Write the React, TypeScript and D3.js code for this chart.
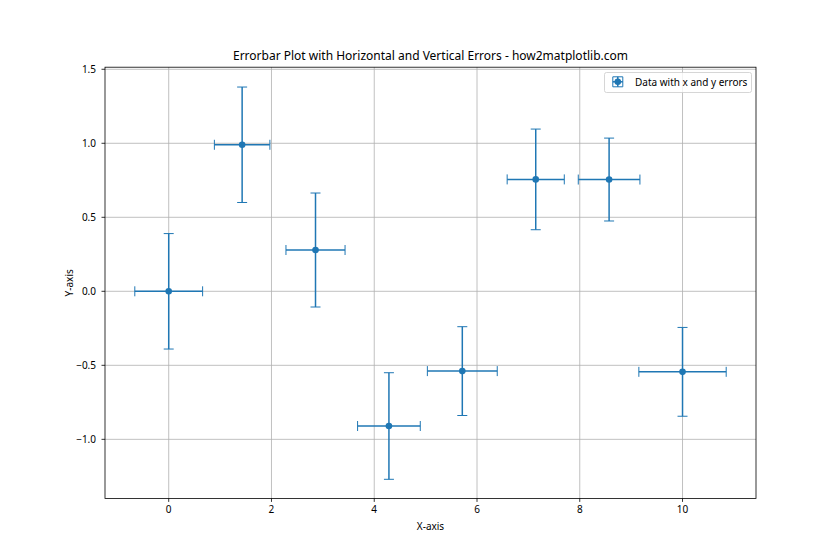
import React from "react";
import * as d3 from "d3";

const xValues = [0, 1.429, 2.857, 4.286, 5.714, 7.143, 8.571, 10];
const yValues = [0, 0.99, 0.279, -0.91, -0.539, 0.756, 0.755, -0.544];
const xErrors = [0.66, 0.54, 0.575, 0.61, 0.68, 0.556, 0.6, 0.85];
const yErrors = [0.39, 0.39, 0.385, 0.36, 0.3, 0.34, 0.28, 0.3];
const xTicks = [0, 2, 4, 6, 8, 10];
const yTicks = [-1.0, -0.5, 0.0, 0.5, 1.0, 1.5];

const W = 840;
const H = 560;
const left = 105;
const right = 756;
const top = 67.2;
const bottom = 498.4;
const color = "#1f77b4";
const font = "'Noto Sans', 'Open Sans', sans-serif";

export default function App() {
  const x = d3.scaleLinear().domain([-1.24, 11.43]).range([left, right]);
  const y = d3.scaleLinear().domain([-1.399, 1.514]).range([bottom, top]);
  const cap = 5;
  const fmtY = (v: number) => (v < 0 ? "\u2212" : "") + Math.abs(v).toFixed(1);
  const lx = 617.8;
  const ly = 81.8;

  return (
    <svg width={W} height={H} style={{ position: "absolute", left: 0, top: 0, background: "#fff" }}>
      <rect x={0} y={0} width={W} height={H} fill="#fff" />
      {/* grid */}
      <g stroke="#b0b0b0" strokeWidth={0.8}>
        {xTicks.map((t) => (
          <line key={"gx" + t} x1={x(t)} x2={x(t)} y1={top} y2={bottom} />
        ))}
        {yTicks.map((t) => (
          <line key={"gy" + t} x1={left} x2={right} y1={y(t)} y2={y(t)} />
        ))}
      </g>
      {/* error bars */}
      <g stroke={color} strokeWidth={1.5} fill="none">
        {xValues.map((xv, i) => {
          const cx = x(xv);
          const cy = y(yValues[i]);
          const x0 = x(xv - xErrors[i]);
          const x1 = x(xv + xErrors[i]);
          const y0 = y(yValues[i] - yErrors[i]);
          const y1 = y(yValues[i] + yErrors[i]);
          return (
            <g key={"e" + i}>
              <line x1={x0} x2={x1} y1={cy} y2={cy} />
              <line x1={cx} x2={cx} y1={y0} y2={y1} />
              <line x1={x0} x2={x0} y1={cy - cap} y2={cy + cap} strokeWidth={1} />
              <line x1={x1} x2={x1} y1={cy - cap} y2={cy + cap} strokeWidth={1} />
              <line x1={cx - cap} x2={cx + cap} y1={y0} y2={y0} strokeWidth={1} />
              <line x1={cx - cap} x2={cx + cap} y1={y1} y2={y1} strokeWidth={1} />
            </g>
          );
        })}
      </g>
      <g fill={color}>
        {xValues.map((xv, i) => (
          <circle key={"p" + i} cx={x(xv)} cy={y(yValues[i])} r={3.3} />
        ))}
      </g>
      {/* axes frame */}
      <rect x={left} y={top} width={right - left} height={bottom - top} fill="none" stroke="#000" strokeWidth={0.8} />
      {/* ticks */}
      <g stroke="#000" strokeWidth={0.8}>
        {xTicks.map((t) => (
          <line key={"tx" + t} x1={x(t)} x2={x(t)} y1={bottom} y2={bottom + 3.5} />
        ))}
        {yTicks.map((t) => (
          <line key={"ty" + t} x1={left} x2={left - 3.5} y1={y(t)} y2={y(t)} />
        ))}
      </g>
      <g fontFamily={font} fontSize={10} fill="#000">
        {xTicks.map((t) => (
          <text key={"lx" + t} x={x(t)} y={bottom + 15} textAnchor="middle">
            {String(t)}
          </text>
        ))}
        {yTicks.map((t) => (
          <text key={"ly" + t} x={left - 9} y={y(t) + 3.5} textAnchor="end">
            {fmtY(t)}
          </text>
        ))}
        <text x={(left + right) / 2} y={530} textAnchor="middle">X-axis</text>
        <text transform={`translate(73, ${(top + bottom) / 2}) rotate(-90)`} textAnchor="middle">Y-axis</text>
      </g>
      <text x={(left + right) / 2} y={60} textAnchor="middle" fontFamily={font} fontSize={12} fill="#000">
        Errorbar Plot with Horizontal and Vertical Errors - how2matplotlib.com
      </text>
      {/* legend */}
      <g>
        <rect x={604.5} y={72.5} width={147} height={20} rx={2} fill="#fff" fillOpacity={0.8} stroke="#cccccc" strokeWidth={0.8} />
        <g stroke={color} strokeWidth={1.5}>
          <line x1={lx - 5} x2={lx + 5} y1={ly} y2={ly} />
          <line x1={lx} x2={lx} y1={ly - 5} y2={ly + 5} />
          <line x1={lx - 5} x2={lx - 5} y1={ly - 5} y2={ly + 5} strokeWidth={1} />
          <line x1={lx + 5} x2={lx + 5} y1={ly - 5} y2={ly + 5} strokeWidth={1} />
          <line x1={lx - 5} x2={lx + 5} y1={ly - 5} y2={ly - 5} strokeWidth={1} />
          <line x1={lx - 5} x2={lx + 5} y1={ly + 5} y2={ly + 5} strokeWidth={1} />
        </g>
        <circle cx={lx} cy={ly} r={3.3} fill={color} />
        <text x={635} y={86} fontFamily={font} fontSize={10} fill="#000">Data with x and y errors</text>
      </g>
    </svg>
  );
}
